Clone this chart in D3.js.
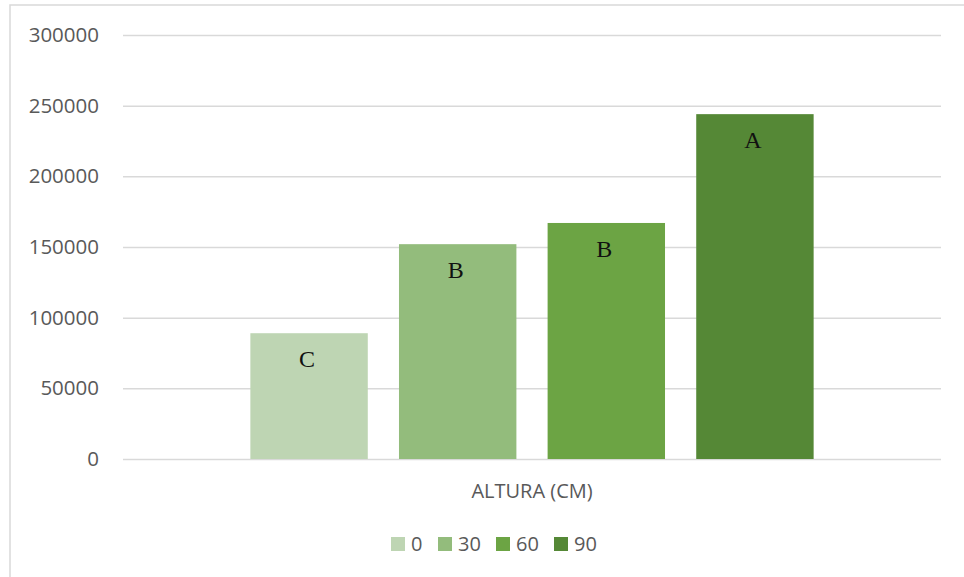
<!DOCTYPE html>
<html><head><meta charset="utf-8">
<script src="https://cdn.jsdelivr.net/npm/d3@7"></script>
<style>html,body{margin:0;padding:0;background:#fff;}</style>
</head><body>
<svg id="chart" width="964" height="577"></svg>
<script>
const categories = ["ALTURA (CM)"];
const seriesNames = ["0", "30", "60", "90"];
const seriesValues = [89000, 152000, 167000, 244000];
const letterLabels = ["C", "B", "B", "A"];
const yTicks = [0, 50000, 100000, 150000, 200000, 250000, 300000];
const colors = ["#bed5b3", "#93bc7c", "#6ca444", "#558836"];

const svg = d3.select("#chart");
const W = 964, H = 577;
const m = {left: 123, right: 941, top: 35, bottom: 459};

// outer border (cropped chart frame)
svg.append("rect").attr("x", 10).attr("y", 5).attr("width", W + 20).attr("height", H + 20)
  .attr("fill", "#fff").attr("stroke", "#d9d9d9").attr("stroke-width", 1.5);

const y = d3.scaleLinear().domain([0, 300000]).range([m.bottom, m.top]);
const x0 = d3.scaleBand().domain(categories).range([m.left, m.right]).paddingInner(0).paddingOuter(0.188);
const x1 = d3.scaleBand().domain(seriesNames).range([0, x0.bandwidth()]).paddingInner(0.21).paddingOuter(0.105);
const color = d3.scaleOrdinal().domain(seriesNames).range(colors);

// gridlines + y labels
const yAxis = d3.axisLeft(y).tickValues(yTicks).tickSize(-(m.right - m.left)).tickPadding(24).tickFormat(d3.format("d"));
const gy = svg.append("g").attr("transform", `translate(${m.left},0)`).call(yAxis);
gy.select(".domain").remove();
gy.selectAll(".tick line").attr("stroke", "#d9d9d9").attr("stroke-width", 1.5);
gy.selectAll(".tick text").attr("fill", "#595959").style("font-family", "'Open Sans', sans-serif").style("font-size", "20.5px");

const data = seriesNames.map((s, i) => ({cat: categories[0], s, v: seriesValues[i], label: letterLabels[i]}));

const g = svg.append("g");
g.selectAll("rect.bar").data(data).join("rect").attr("class", "bar")
  .attr("x", d => x0(d.cat) + x1(d.s))
  .attr("y", d => y(d.v))
  .attr("width", x1.bandwidth())
  .attr("height", d => y(0) - y(d.v))
  .attr("fill", d => color(d.s));

g.selectAll("text.lbl").data(data).join("text").attr("class", "lbl")
  .attr("x", d => x0(d.cat) + x1(d.s) + x1.bandwidth() / 2 - 2)
  .attr("y", d => y(d.v) + 34)
  .attr("text-anchor", "middle")
  .attr("fill", "#111")
  .style("font-family", "'Liberation Serif', 'Times New Roman', serif")
  .style("font-size", "24px")
  .text(d => d.label);

// x axis category label
svg.append("text").attr("x", x0(categories[0]) + x0.bandwidth() / 2).attr("y", 498)
  .attr("text-anchor", "middle").attr("fill", "#595959")
  .style("font-family", "'Open Sans', sans-serif").style("font-size", "20px")
  .text(categories[0]);

// legend
const legendX = [391, 438, 496, 554];
const lg = svg.append("g");
const items = lg.selectAll("g").data(seriesNames).join("g")
  .attr("transform", (d, i) => `translate(${legendX[i]},537)`);
items.append("rect").attr("width", 14).attr("height", 14).attr("fill", d => color(d));
items.append("text").attr("x", 20).attr("y", 14).attr("fill", "#595959")
  .style("font-family", "'Open Sans', sans-serif").style("font-size", "20px")
  .text(d => d);
</script>
</body></html>
